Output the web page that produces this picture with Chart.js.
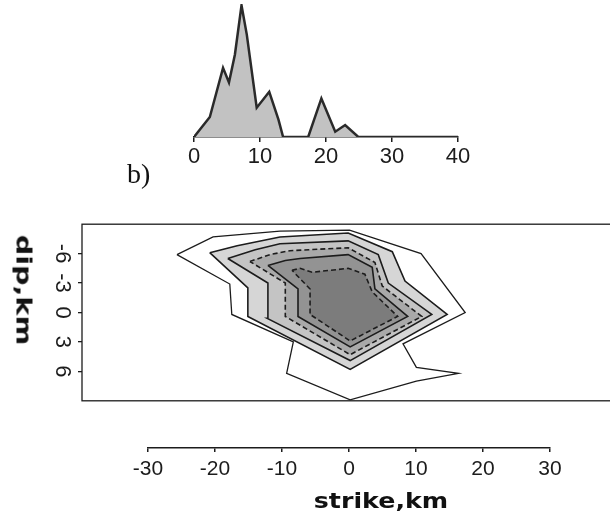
<!DOCTYPE html>
<html>
<head>
<meta charset="utf-8">
<script src="https://cdn.jsdelivr.net/npm/chart.js@4.4.1/dist/chart.umd.min.js"></script>
<style>
  html, body { margin: 0; padding: 0; background: #fff; overflow: hidden; width: 610px; height: 527px; }
  canvas { position: absolute; left: 0; }
  #histCanvas { top: 0; }
  #slipCanvas { top: 205px; }
  #strikeCanvas { top: 440px; }
  .label { position: absolute; color: #111; white-space: nowrap; }
  #panelTag { left: 127px; top: 158px; font: 28px "Liberation Serif", serif; }
  #dipTitle { left: 24px; top: 290px; font: bold 22px "DejaVu Sans", sans-serif;
              transform: translate(-50%, -50%) rotate(90deg) scaleX(1.3); }
  #strikeTitle { left: 381px; top: 500px; font: bold 22px "DejaVu Sans", sans-serif;
                 transform: translate(-50%, -50%) scaleX(1.15); }
</style>
</head>
<body>
<canvas id="histCanvas" width="610" height="180"></canvas>
<canvas id="slipCanvas" width="625" height="215"></canvas>
<canvas id="strikeCanvas" width="610" height="60"></canvas>
<div class="label" id="panelTag">b)</div>
<div class="label" id="dipTitle">dip,km</div>
<div class="label" id="strikeTitle">strike,km</div>
<script>
// depth profile (km) and relative amplitude of the upper trace
const histDepth = [0, 2.4, 4.4, 5.3, 6.2, 7.2, 8.0, 9.5, 11.4, 12.8, 13.5, 17.3, 19.3, 21.4, 22.9, 24.9, 40];
const histValue = [0, 15, 52, 41, 62, 99, 77, 22, 34, 13, 0, 0, 29, 4, 9, 0, 0];
const histTicks = [0, 10, 20, 30, 40];

// slip contours: strike (km) and dip (km) of each closed line, outermost first
const outerStrike = [-25.8, -20.4, -10.4, 0, 10.7, 17.3, 8.0, 10.0, 16.3, 10.0, 0.1, -9.4, -8.4, -17.6, -17.9];
const outerDip    = [-5.9, -7.7, -8.3, -8.4, -6.0, 0, 3.2, 5.6, 6.2, 7.0, 8.9, 6.2, 3.0, 0.2, -2.9];
const level1Strike = [-20.9, -16.8, -10.4, -0.2, 6.4, 8.3, 14.6, 0.1, -15.2, -15.2];
const level1Dip    = [-6.1, -6.8, -7.7, -8.1, -6.2, -3.2, 0.2, 5.8, 0.4, -2.5];
const level2Strike = [-18.2, -14.1, -10.4, -0.2, 4.3, 5.8, 12.3, 0.1, -12.3, -12.2];
const level2Dip    = [-5.5, -6.4, -7.0, -7.3, -5.9, -3.0, 0.2, 4.9, 0.6, -3.0];
const level3Strike = [-14.9, -11.9, -8.9, -0.2, 3.8, 4.9, 10.8, 0.1, -9.6, -9.6];
const level3Dip    = [-5.2, -5.9, -6.3, -6.6, -5.1, -2.7, 0.4, 4.3, 0.4, -3.0];
const level4Strike = [-12.2, -9.6, -7.4, -0.2, 3.4, 3.8, 8.7, 0.1, -7.7, -7.7];
const level4Dip    = [-4.8, -5.3, -5.5, -5.9, -4.6, -2.4, 0.4, 3.5, 0.4, -2.4];
const level5Strike = [-8.6, -7.4, -5.6, -0.2, 2.3, 3.4, 7.2, 0.1, -5.9, -5.9];
const level5Dip    = [-4.3, -4.5, -4.1, -4.5, -3.9, -2.1, 0.4, 2.9, 0.2, -2.4];
const dipTicks = [-6, -3, 0, 3, 6];
const strikeTicks = [-30, -20, -10, 0, 10, 20, 30];

const ink = '#1c1c1c';
const tickFont = { family: '"Liberation Sans", Arial, sans-serif', size: 21 };

function ring(strike, dip) {
  const pts = strike.map((x, i) => ({ x, y: dip[i] }));
  pts.push(pts[0]);
  return pts;
}

const contourStyles = [
  { strike: outerStrike,  dip: outerDip,  fill: null,      dash: [],     width: 1.3 },
  { strike: level1Strike, dip: level1Dip, fill: '#d6d6d6', dash: [],     width: 1.6 },
  { strike: level2Strike, dip: level2Dip, fill: '#c4c4c4', dash: [],     width: 1.6 },
  { strike: level3Strike, dip: level3Dip, fill: '#a9a9a9', dash: [5, 3], width: 1.6 },
  { strike: level4Strike, dip: level4Dip, fill: '#939393', dash: [],     width: 1.6 },
  { strike: level5Strike, dip: level5Dip, fill: '#7c7c7c', dash: [5, 3], width: 1.6 }
];

// box round the plot area of the contour panel
const frameBox = {
  id: 'frameBox',
  afterDatasetsDraw(chart) {
    const { ctx, chartArea: a } = chart;
    ctx.save();
    ctx.strokeStyle = ink;
    ctx.lineWidth = 1.3;
    ctx.strokeRect(a.left, a.top, a.width, a.height);
    ctx.restore();
  }
};

const quiet = {
  responsive: false,
  animation: false,
  events: [],
  plugins: { legend: { display: false }, tooltip: { enabled: false } }
};

new Chart(document.getElementById('histCanvas'), {
  type: 'line',
  data: {
    datasets: [{
      data: histDepth.map((x, i) => ({ x, y: histValue[i] })),
      fill: 'origin',
      backgroundColor: '#c2c2c2',
      borderColor: '#2a2a2a',
      borderWidth: 2.5,
      pointRadius: 0,
      tension: 0
    }]
  },
  options: {
    ...quiet,
    layout: { padding: { left: 194, right: 152, top: 4, bottom: 5 } },
    scales: {
      x: {
        type: 'linear', min: 0, max: 40,
        afterFit: s => { s.height = 38; },
        afterBuildTicks: s => { s.ticks = histTicks.map(v => ({ value: v })); },
        ticks: { font: { ...tickFont, size: 22 }, color: ink, padding: 2 },
        grid: { drawOnChartArea: false, tickLength: 5, color: ink, lineWidth: 1.5 },
        border: { color: ink, width: 1.5 }
      },
      y: { display: false, min: 0, max: 100 }
    }
  }
});

new Chart(document.getElementById('slipCanvas'), {
  type: 'scatter',
  data: {
    datasets: contourStyles.map((c, i) => ({
      data: ring(c.strike, c.dip),
      showLine: true,
      fill: c.fill ? 'shape' : false,
      backgroundColor: c.fill || 'transparent',
      borderColor: ink,
      borderWidth: c.width,
      borderDash: c.dash,
      pointRadius: 0,
      tension: 0,
      order: contourStyles.length - i
    }))
  },
  options: {
    ...quiet,
    layout: { padding: { left: 2, right: 8, top: 12, bottom: 5 } },
    scales: {
      x: { type: 'linear', min: -40, max: 40, display: false },
      y: {
        type: 'linear', min: -9, max: 9, reverse: true,
        afterFit: s => { s.width = 80; },
        afterBuildTicks: s => { s.ticks = dipTicks.map(v => ({ value: v })); },
        ticks: { font: { ...tickFont, size: 22 }, color: ink, minRotation: -90, maxRotation: -90, crossAlign: 'center', padding: 6 },
        grid: { drawOnChartArea: false, tickLength: 4, color: ink, lineWidth: 1.3 },
        border: { display: false }
      }
    }
  },
  plugins: [frameBox]
});

new Chart(document.getElementById('strikeCanvas'), {
  type: 'scatter',
  data: { datasets: [] },
  options: {
    ...quiet,
    layout: { padding: { left: 148, right: 60, top: 0, bottom: 0 } },
    scales: {
      x: {
        type: 'linear', min: -30, max: 30,
        afterFit: s => { s.height = 52; },
        afterBuildTicks: s => { s.ticks = strikeTicks.map(v => ({ value: v })); },
        ticks: { font: tickFont, color: ink, padding: 5 },
        grid: { drawOnChartArea: false, tickLength: 4, color: ink, lineWidth: 1.5 },
        border: { color: ink, width: 1.5 }
      },
      y: { display: false, min: 0, max: 1 }
    }
  }
});
</script>
</body>
</html>
